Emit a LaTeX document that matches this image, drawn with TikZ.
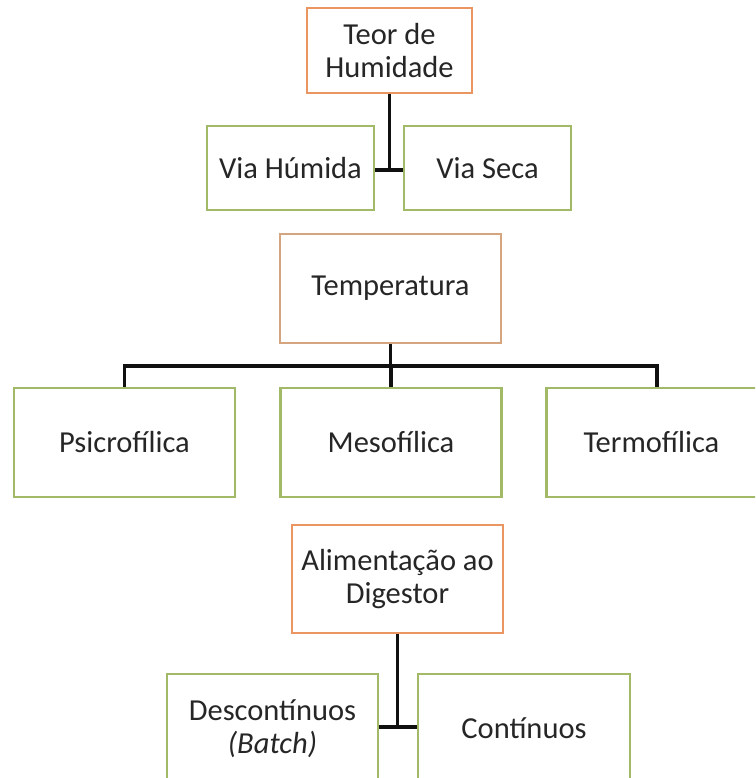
\documentclass[tikz,border=0pt]{standalone}
\usepackage{fontspec}
\setmainfont{Carlito}
\definecolor{boxorange}{HTML}{EB9560}
\definecolor{boxtan}{HTML}{D4A57E}
\definecolor{boxgreen}{HTML}{A2BA68}
\definecolor{linkblack}{HTML}{101010}
\begin{document}
\begin{tikzpicture}[x=1pt,y=-1pt,
  base/.style={draw, rectangle, line width=2.9pt, fill=white, inner sep=0pt, align=center,
     font=\fontsize{30.5}{33}\selectfont, text=black!85},
  headbox/.style={base, draw=boxorange},
  tempbox/.style={base, draw=boxtan},
  leafbox/.style={base, draw=boxgreen},
  link/.style={draw=linkblack, line width=3.2pt}]
\useasboundingbox (0,0) rectangle (755,778);
\clip (0,0) rectangle (755,778);
\fill[white] (0,0) rectangle (755,778);

% Teor de Humidade
\node[headbox, minimum width=165pt, minimum height=85pt] (teor) at (389.5,50.5) {Teor de\\Humidade};
\node[leafbox, minimum width=167pt, minimum height=84pt] (vh) at (290.5,168) {Via Húmida};
\node[leafbox, minimum width=167pt, minimum height=84pt] (vs) at (487.5,168) {Via Seca};
\coordinate (j1) at (teor.south |- 0,170);
\draw[link] (teor.south) -- (j1);
\draw[link] (vh.east |- j1) -- (vs.west |- j1);

% Temperatura
\node[tempbox, minimum width=221pt, minimum height=109pt] (temp) at (390.5,288.5) {\raisebox{-2pt}{Temperatura}};
\node[leafbox, minimum width=221pt, minimum height=109pt] (psi) at (124.5,442.5) {Psicrofílica};
\node[leafbox, minimum width=221pt, minimum height=109pt] (meso) at (391,442.5) {Mesofílica};
\node[leafbox, minimum width=221pt, minimum height=109pt, text width=207pt, align=left] (termo) at (657,442.5) {\hspace*{30pt}Termofílica};
\coordinate (j2) at (temp.south |- 0,366);
\draw[link] (temp.south) -- (j2);
\draw[link] (psi.north) -- (psi.north |- j2) -- (termo.north |- j2) -- (termo.north);
\draw[link] (meso.north) -- (meso.north |- j2);

% Alimentacao
\node[headbox, minimum width=211pt, minimum height=108pt] (alim) at (397.5,579) {Alimentação ao\\Digestor};
\node[leafbox, minimum width=211pt, minimum height=109pt] (desc) at (272.5,728.5) {Descontínuos\\\textit{(Batch)}};
\node[leafbox, minimum width=212pt, minimum height=109pt] (cont) at (524,728.5) {Contínuos};
\coordinate (j3) at (alim.south |- 0,727);
\draw[link] (alim.south) -- (j3);
\draw[link] (desc.east |- j3) -- (cont.west |- j3);
\end{tikzpicture}
\end{document}
